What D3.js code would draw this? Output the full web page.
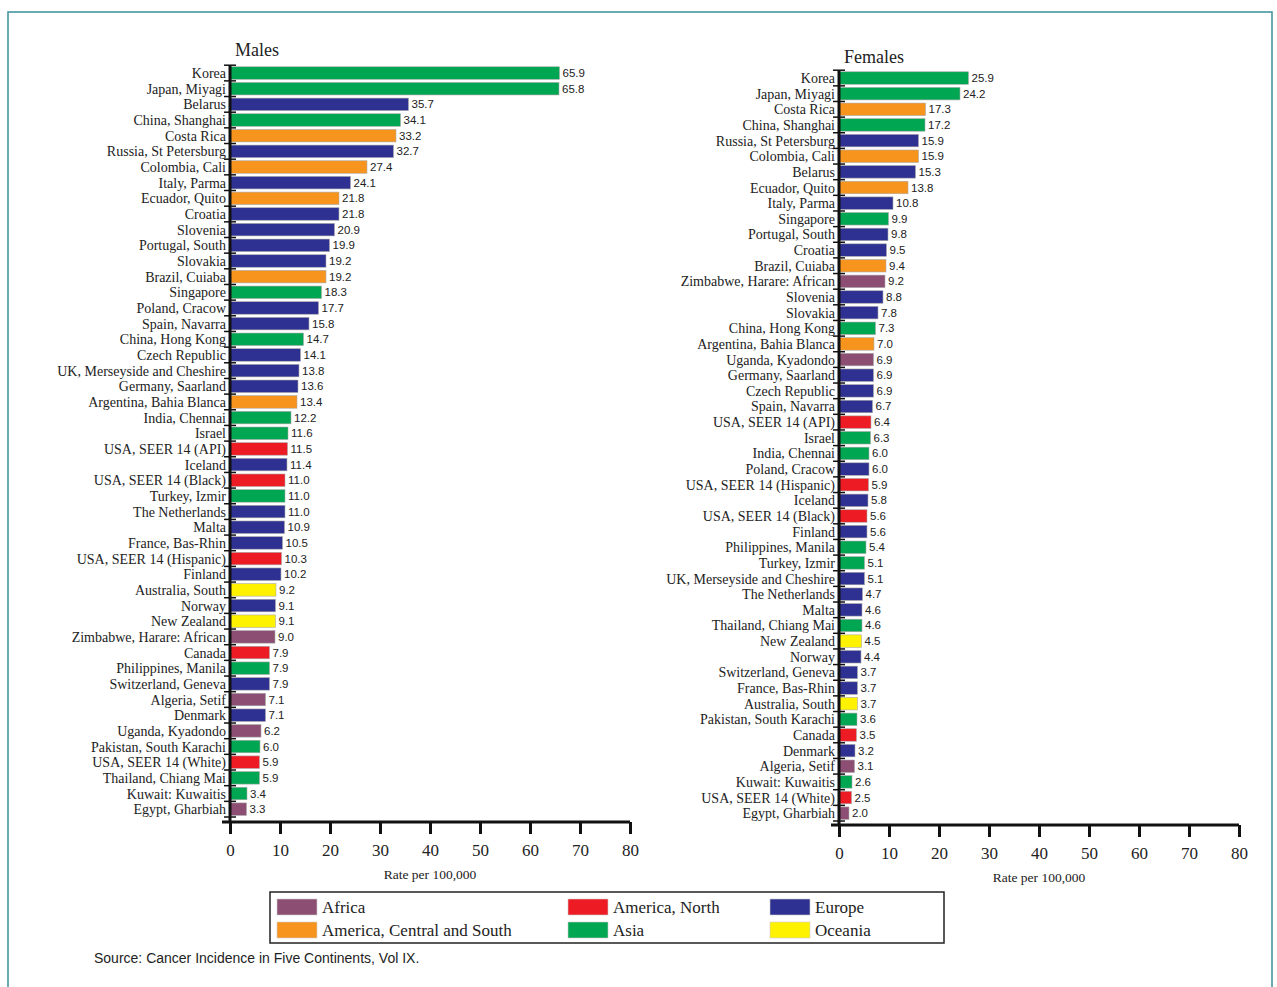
<!DOCTYPE html>
<html><head><meta charset="utf-8">
<script src="https://cdn.jsdelivr.net/npm/d3@7"></script>
<style>body{margin:0;background:#fff;}</style>
</head><body>
<script>
var width = 1277, height = 987;

var regions = ["Africa", "America, North", "Europe", "America, Central and South", "Asia", "Oceania"];
var regionColors = ["#8c4f73", "#ed1c24", "#2e3192", "#f7941d", "#00a651", "#fff200"];

var maleNames = ["Korea","Japan, Miyagi","Belarus","China, Shanghai","Costa Rica","Russia, St Petersburg","Colombia, Cali","Italy, Parma","Ecuador, Quito","Croatia","Slovenia","Portugal, South","Slovakia","Brazil, Cuiaba","Singapore","Poland, Cracow","Spain, Navarra","China, Hong Kong","Czech Republic","UK, Merseyside and Cheshire","Germany, Saarland","Argentina, Bahia Blanca","India, Chennai","Israel","USA, SEER 14 (API)","Iceland","USA, SEER 14 (Black)","Turkey, Izmir","The Netherlands","Malta","France, Bas-Rhin","USA, SEER 14 (Hispanic)","Finland","Australia, South","Norway","New Zealand","Zimbabwe, Harare: African","Canada","Philippines, Manila","Switzerland, Geneva","Algeria, Setif","Denmark","Uganda, Kyadondo","Pakistan, South Karachi","USA, SEER 14 (White)","Thailand, Chiang Mai","Kuwait: Kuwaitis","Egypt, Gharbiah"];
var maleValues = [65.9,65.8,35.7,34.1,33.2,32.7,27.4,24.1,21.8,21.8,20.9,19.9,19.2,19.2,18.3,17.7,15.8,14.7,14.1,13.8,13.6,13.4,12.2,11.6,11.5,11.4,11.0,11.0,11.0,10.9,10.5,10.3,10.2,9.2,9.1,9.1,9.0,7.9,7.9,7.9,7.1,7.1,6.2,6.0,5.9,5.9,3.4,3.3];
var maleRegions = ["Asia","Asia","Europe","Asia","America, Central and South","Europe","America, Central and South","Europe","America, Central and South","Europe","Europe","Europe","Europe","America, Central and South","Asia","Europe","Europe","Asia","Europe","Europe","Europe","America, Central and South","Asia","Asia","America, North","Europe","America, North","Asia","Europe","Europe","Europe","America, North","Europe","Oceania","Europe","Oceania","Africa","America, North","Asia","Europe","Africa","Europe","Africa","Asia","America, North","Asia","Asia","Africa"];

var femaleNames = ["Korea","Japan, Miyagi","Costa Rica","China, Shanghai","Russia, St Petersburg","Colombia, Cali","Belarus","Ecuador, Quito","Italy, Parma","Singapore","Portugal, South","Croatia","Brazil, Cuiaba","Zimbabwe, Harare: African","Slovenia","Slovakia","China, Hong Kong","Argentina, Bahia Blanca","Uganda, Kyadondo","Germany, Saarland","Czech Republic","Spain, Navarra","USA, SEER 14 (API)","Israel","India, Chennai","Poland, Cracow","USA, SEER 14 (Hispanic)","Iceland","USA, SEER 14 (Black)","Finland","Philippines, Manila","Turkey, Izmir","UK, Merseyside and Cheshire","The Netherlands","Malta","Thailand, Chiang Mai","New Zealand","Norway","Switzerland, Geneva","France, Bas-Rhin","Australia, South","Pakistan, South Karachi","Canada","Denmark","Algeria, Setif","Kuwait: Kuwaitis","USA, SEER 14 (White)","Egypt, Gharbiah"];
var femaleValues = [25.9,24.2,17.3,17.2,15.9,15.9,15.3,13.8,10.8,9.9,9.8,9.5,9.4,9.2,8.8,7.8,7.3,7.0,6.9,6.9,6.9,6.7,6.4,6.3,6.0,6.0,5.9,5.8,5.6,5.6,5.4,5.1,5.1,4.7,4.6,4.6,4.5,4.4,3.7,3.7,3.7,3.6,3.5,3.2,3.1,2.6,2.5,2.0];
var femaleRegions = ["Asia","Asia","America, Central and South","Asia","Europe","America, Central and South","Europe","America, Central and South","Europe","Asia","Europe","Europe","America, Central and South","Africa","Europe","Europe","Asia","America, Central and South","Africa","Europe","Europe","Europe","America, North","Asia","Asia","Europe","America, North","Europe","America, North","Europe","Asia","Asia","Europe","Europe","Europe","Asia","Oceania","Europe","Europe","Europe","Oceania","Asia","America, North","Europe","Africa","Asia","America, North","Africa"];

var xTicks = [0,10,20,30,40,50,60,70,80];

var color = d3.scaleOrdinal().domain(regions).range(regionColors);
var serif = "'Liberation Serif', 'Times New Roman', serif";
var sans = "'Liberation Sans', Arial, sans-serif";

var svg = d3.select("body").append("svg")
	.attr("width", width)
	.attr("height", height);

svg.append("rect")
	.attr("x", 8).attr("y", 12).attr("width", 1264).attr("height", 990)
	.attr("fill", "none").attr("stroke", "#3a8f9a").attr("stroke-width", 1.5);

function drawPanel(names, values, regs, x0, top, bottom, axisY, title, titleY) {
	var x = d3.scaleLinear().domain([0, 80]).range([x0, x0 + 400]);
	var y = d3.scaleBand().domain(names).range([top, bottom]).paddingInner(0.2).paddingOuter(0.1);
	var g = svg.append("g");

	g.append("text").attr("x", x0 + 5).attr("y", titleY)
		.attr("font-family", serif).attr("font-size", 18).attr("fill", "#222").text(title);

	g.selectAll("rect.bar").data(names).enter().append("rect")
		.attr("x", x(0))
		.attr("y", function (d) { return y(d); })
		.attr("width", function (d, i) { return x(values[i]) - x(0); })
		.attr("height", y.bandwidth())
		.attr("fill", function (d, i) { return color(regs[i]); })
		.attr("stroke", "#aaa").attr("stroke-width", 0.6);

	g.selectAll("text.val").data(names).enter().append("text")
		.attr("x", function (d, i) { return x(values[i]) + 3; })
		.attr("y", function (d) { return y(d) + y.bandwidth() / 2 + 4; })
		.attr("font-family", sans).attr("font-size", 11.5).attr("fill", "#222")
		.text(function (d, i) { return values[i].toFixed(1); });

	g.selectAll("text.lab").data(names).enter().append("text")
		.attr("x", x(0) - 4)
		.attr("y", function (d) { return y(d) + y.bandwidth() / 2 + 5; })
		.attr("text-anchor", "end")
		.attr("font-family", serif).attr("font-size", 14).attr("fill", "#222")
		.text(function (d) { return d; });

	// y axis with ticks at row boundaries
	var step = y.step();
	g.append("line").attr("x1", x(0)).attr("x2", x(0)).attr("y1", top).attr("y2", axisY)
		.attr("stroke", "#111").attr("stroke-width", 3);
	g.selectAll("line.yt").data(d3.range(names.length + 1)).enter().append("line")
		.attr("x1", x(0) - 6).attr("x2", x(0) + 6)
		.attr("y1", function (d) { return top + d * step; })
		.attr("y2", function (d) { return top + d * step; })
		.attr("stroke", "#111").attr("stroke-width", 1.5);

	var ax = g.append("g").attr("transform", "translate(0," + axisY + ")")
		.call(d3.axisBottom(x).tickValues(xTicks).tickSize(12).tickPadding(10));
	ax.select(".domain").attr("stroke", "#111").attr("stroke-width", 3).attr("d", "M" + (x0 - 8) + ",0H" + (x0 + 400));
	ax.selectAll(".tick line").attr("stroke", "#111").attr("stroke-width", 3);
	ax.selectAll(".tick text").attr("font-family", serif).attr("font-size", 17).attr("fill", "#222");

	g.append("text").attr("x", x(40)).attr("y", axisY + 57).attr("text-anchor", "middle")
		.attr("font-family", serif).attr("font-size", 13.5).attr("fill", "#222").text("Rate per 100,000");
}

drawPanel(maleNames, maleValues, maleRegions, 230, 65.2, 817, 822, "Males", 56);
drawPanel(femaleNames, femaleValues, femaleRegions, 839, 70.2, 821, 825, "Females", 63);

// legend
var legend = svg.append("g");
legend.append("rect").attr("x", 270).attr("y", 892).attr("width", 674).attr("height", 51)
	.attr("fill", "none").attr("stroke", "#222").attr("stroke-width", 1.5);
var legOrder = ["Africa", "America, North", "Europe", "America, Central and South", "Asia", "Oceania"];
var legX = [277, 568, 770];
var item = legend.selectAll("g.item").data(legOrder).enter().append("g")
	.attr("transform", function (d, i) { return "translate(" + legX[i % 3] + "," + (899 + Math.floor(i / 3) * 23) + ")"; });
item.append("rect").attr("width", 40).attr("height", 16)
	.attr("fill", function (d) { return color(d); }).attr("stroke", "#ccc").attr("stroke-width", 0.6);
item.append("text").attr("x", 45).attr("y", 14)
	.attr("font-family", serif).attr("font-size", 17).attr("fill", "#222").text(function (d) { return d; });

svg.append("text").attr("x", 94).attr("y", 963)
	.attr("font-family", sans).attr("font-size", 14).attr("fill", "#222")
	.text("Source: Cancer Incidence in Five Continents, Vol IX.");
</script>
</body></html>
